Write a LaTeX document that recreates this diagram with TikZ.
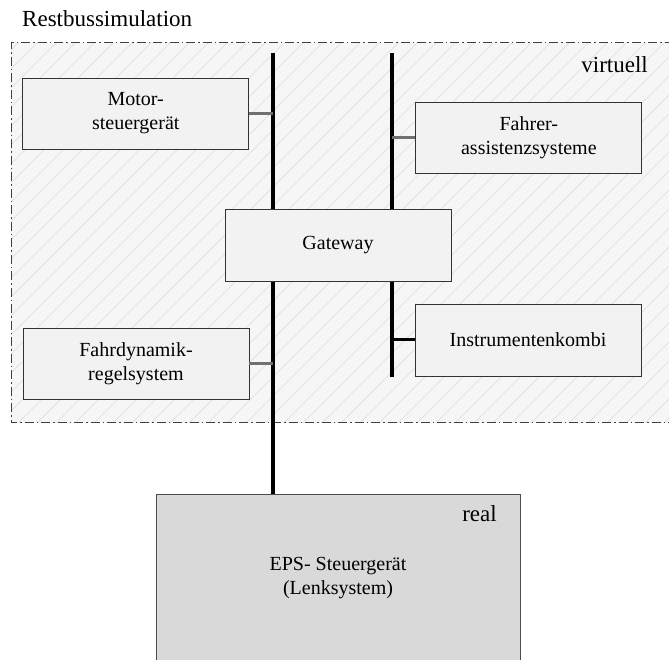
\documentclass[tikz,border=0pt]{standalone}
\usepackage{fontspec}
\setmainfont{Liberation Serif}
\usetikzlibrary{positioning}

\definecolor{hatchgray}{HTML}{DCDCDC}
\definecolor{areagray}{HTML}{F6F6F6}
\definecolor{boxgray}{HTML}{F2F2F2}
\definecolor{realgray}{HTML}{D9D9D9}
\definecolor{tapgray}{HTML}{707070}

\tikzset{
  ecu/.style={draw=black!80, fill=boxgray, line width=0.9pt, minimum width=226pt, minimum height=71pt,
    align=center, font=\fontsize{20}{24}\selectfont, inner sep=0pt},
  bus/.style={line width=3.2pt, black},
  tap/.style={line width=3pt, tapgray},
  tag/.style={font=\fontsize{23}{27}\selectfont, inner sep=0pt}
}

\begin{document}
\begin{tikzpicture}[x=1pt,y=1pt]
\useasboundingbox (0,0) rectangle (669,659);
% virtual area with hatching
\fill[areagray] (11,236) rectangle (690,616);
\begin{scope}
\clip (11,236) rectangle (690,616);
\foreach \i in {-400,-381,...,700}
  \draw[hatchgray, line width=0.6pt] (\i,236) -- ++(400,400);
\end{scope}
\draw[black!75, line width=1pt, dash pattern=on 9pt off 3pt on 1.5pt off 3pt]
  (690,616) -- (11,616) -- (11,236) -- (690,236);
\node[tag, anchor=base west] (rbs) at (22,632) {Restbussimulation};
\node[tag, anchor=base east] (virt) at (648,586) {virtuell};

% bus lines
\coordinate (bus1top) at (273,606);
\coordinate (bus2top) at (392,606);
\coordinate (bus2bot) at (392,282);

\node[draw=black!70, fill=realgray, line width=0.9pt, minimum width=364pt, minimum height=168pt,
  align=center, font=\fontsize{20}{24}\selectfont, inner sep=0pt] (eps) at (338,81)
  {EPS- Steuergerät\\(Lenksystem)};
\node[tag, anchor=base east] (real) at (497,138) {real};

\draw[bus] (bus1top) -- (eps.north -| bus1top);
\draw[bus] (bus2top) -- (bus2bot);

% control units
\node[ecu] (motor) at (135.75,545.5) {Motor-\\steuergerät};
\node[ecu] (fas) at (528.85,521.5) {Fahrer-\\assistenzsysteme};
\node[ecu, minimum height=72pt] (gw) at (338,414) {Gateway};
\node[ecu] (fdr) at (136,295.5) {Fahrdynamik-\\regelsystem};
\node[ecu, minimum height=72pt] (ik) at (528,319) {Instrumentenkombi};

% taps onto the buses
\draw[tap] (motor.east) -- (motor.east -| bus1top);
\draw[tap] (fdr.east) -- (fdr.east -| bus1top);
\draw[tap] (fas.west) -- (fas.west -| bus2top);
\draw[bus, line width=3pt] (ik.west) -- (ik.west -| bus2top);
\end{tikzpicture}
\end{document}
